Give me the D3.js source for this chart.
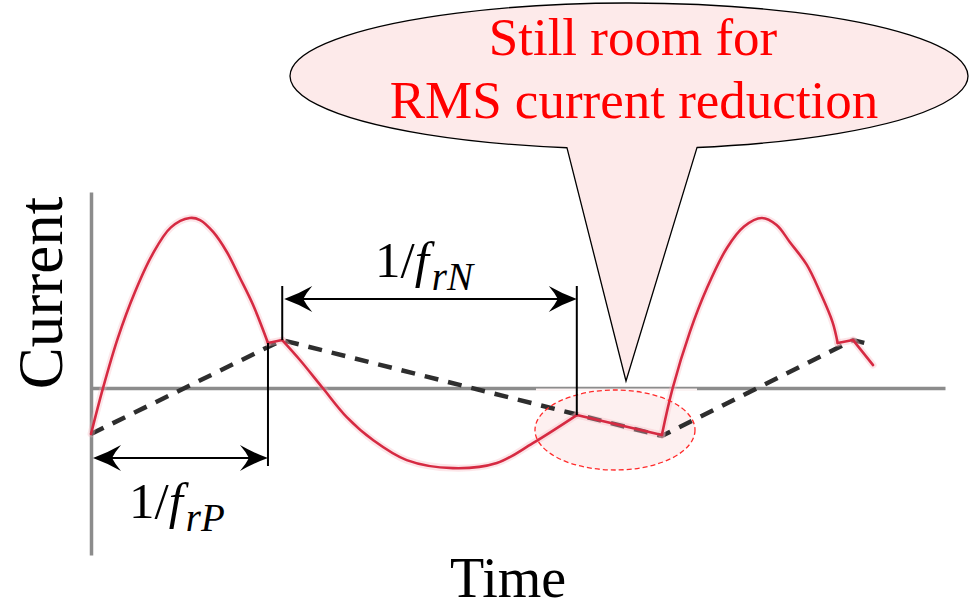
<!DOCTYPE html>
<html>
<head>
<meta charset="utf-8">
<script src="https://cdn.jsdelivr.net/npm/d3@7/dist/d3.min.js"></script>
</head>
<body style="margin:0; background:#ffffff">
<svg id="chart" width="970" height="610" style="display:block"></svg>
<script>
// Resonant tank current (solid) and magnetizing current (dashed); current normalised to the resonant peak
const resonantPosArc = [[0, -0.27], [0.21, 0], [0.47, 0.294], [0.77, 0.565], [1.07, 0.782], [1.40, 0.945],
  [1.73, 1.0], [1.91, 0.988], [2.14, 0.918], [2.38, 0.80], [2.61, 0.647], [2.84, 0.488], [3.10, 0.265]];
const resonantNegArc = [[3.35, 0.282], [3.66, 0.165], [4.06, 0], [4.48, -0.171], [4.94, -0.306], [5.53, -0.424],
  [6.34, -0.471], [7.11, -0.441], [7.74, -0.324], [8.51, -0.159]];
const resonantPosArc2 = [[10.0, -0.276], [10.19, 0], [10.49, 0.329], [10.79, 0.588], [11.14, 0.824], [11.44, 0.95],
  [11.75, 1.0], [12.01, 0.959], [12.24, 0.859], [12.54, 0.724], [12.77, 0.565], [12.99, 0.388], [13.08, 0.265]];
const resonantTail = [[13.35, 0.282], [13.70, 0.135]];
const magnetizing = [[0, -0.27], [3.35, 0.282], [10.0, -0.282], [13.35, 0.282], [13.70, 0.253]];

// Interval markers: 1/f_rP and 1/f_rN
const intervalStart = [0, 3.35];
const intervalEnd = [3.10, 8.51];
const intervalSub = ["rP", "rN"];

const timeDomain = [0, 14.96];
const currentDomain = [-0.982, 1.153];
const axisTitles = { x: "Time", y: "Current" };
const calloutLines = ["Still room for", "RMS current reduction"];

const serif = "\"Liberation Serif\"";
const svg = d3.select("#chart");
const x = d3.scaleLinear().domain(timeDomain).range([91, 945]);
const y = d3.scaleLinear().domain(currentDomain).range([555, 192]);

// Highlight around the freewheeling interval (fill drawn underneath)
const hl = { cx: 615, cy: 430, rx: 80, ry: 40 };
svg.append("ellipse").attr("cx", hl.cx).attr("cy", hl.cy).attr("rx", hl.rx).attr("ry", hl.ry)
  .attr("fill", "#fdf0f0");

// Axes: plain lines without ticks
const axisColor = "#8c8c8c";
const gx = svg.append("g").attr("transform", `translate(0,${y(0)})`)
  .call(d3.axisBottom(x).tickValues([]).tickSizeOuter(0));
const gy = svg.append("g").attr("transform", `translate(${x(0)},0)`)
  .call(d3.axisLeft(y).tickValues([]).tickSizeOuter(0));
[gx, gy].forEach(g => g.select(".domain").attr("stroke", axisColor).attr("stroke-width", 3.5));

// the highlight patch thins the time axis where it overlaps it
svg.append("rect").attr("x", 536).attr("y", y(0) + 0.5).attr("width", 161).attr("height", 2.5).attr("fill", "#fbf3f3");

// Magnetizing current, dashed
const lin = d3.line().x(d => x(d[0])).y(d => y(d[1]));
svg.append("path").datum(magnetizing).attr("d", lin)
  .attr("fill", "none").attr("stroke", "#2e2e2e").attr("stroke-width", 4.5)
  .attr("stroke-dasharray", "14,10");

// Resonant current: smooth arcs joined by straight segments along the magnetizing current
const smooth = d3.line().x(d => x(d[0])).y(d => y(d[1])).curve(d3.curveCatmullRom.alpha(0.5));
const arcs = [resonantPosArc, resonantNegArc, resonantPosArc2, resonantTail];
const joins = arcs.slice(1).map((a, i) => [arcs[i][arcs[i].length - 1], a[0]]);
const red = svg.append("g").attr("fill", "none").attr("stroke-linecap", "round").attr("stroke-linejoin", "round");
// soft halo
arcs.forEach(a => red.append("path").datum(a).attr("d", smooth).attr("stroke", "#f6b8c0").attr("stroke-width", 7).attr("opacity", 0.35));
joins.forEach(j => red.append("path").datum(j).attr("d", lin).attr("stroke", "#f6b8c0").attr("stroke-width", 7).attr("opacity", 0.35));
arcs.forEach(a => red.append("path").datum(a).attr("d", smooth).attr("stroke", "#d62a42").attr("stroke-width", 2.6));
joins.forEach(j => red.append("path").datum(j).attr("d", lin).attr("stroke", "#d62a42").attr("stroke-width", 2.6));

// Dashed outline of the highlight
svg.append("ellipse").attr("cx", hl.cx).attr("cy", hl.cy).attr("rx", hl.rx).attr("ry", hl.ry)
  .attr("fill", "none").attr("stroke", "#ff2a2a").attr("stroke-width", 1.3).attr("stroke-dasharray", "5,3");

// Interval arrows
const arrowHead = "M0,0 Q-14,-5 -28,-13 Q-22,-6 -19,0 Q-22,6 -28,13 Q-14,5 0,0 Z";
const ann = svg.append("g");
function dimArrow(t0, t1, yy) {
  const x0 = x(t0) + 2, x1 = x(t1);
  ann.append("line").attr("x1", x0 + 10).attr("x2", x1 - 10).attr("y1", yy).attr("y2", yy)
    .attr("stroke", "#000").attr("stroke-width", 2);
  ann.append("path").attr("d", arrowHead).attr("transform", `translate(${x1},${yy})`).attr("fill", "#000");
  ann.append("path").attr("d", arrowHead).attr("transform", `translate(${x0},${yy}) rotate(180)`).attr("fill", "#000");
}
function vline(t, ya, yb) {
  ann.append("line").attr("x1", x(t)).attr("x2", x(t)).attr("y1", ya).attr("y2", yb)
    .attr("stroke", "#000").attr("stroke-width", 2);
}
// 1/f_rP below the axis
const yP = 458;
dimArrow(intervalStart[0], intervalEnd[0], yP);
vline(intervalEnd[0], y(resonantPosArc[resonantPosArc.length - 1][1]), yP + 8);
// 1/f_rN above the axis
const yN = 299;
dimArrow(intervalStart[1], intervalEnd[1], yN);
vline(intervalStart[1], yN - 13, y(resonantNegArc[0][1]));
vline(intervalEnd[1], yN - 13, y(resonantNegArc[resonantNegArc.length - 1][1]));

function periodLabel(xx, yy, sub) {
  const t = svg.append("text").attr("x", xx).attr("y", yy).attr("font-size", 51).attr("fill", "#000")
    .style("font-family", serif);
  t.append("tspan").text("1/");
  t.append("tspan").attr("font-style", "italic").text("f");
  t.append("tspan").attr("font-style", "italic").attr("font-size", 39).attr("dx", 3).attr("dy", 13).text(sub);
}
periodLabel(129, 518, intervalSub[0]);
periodLabel(375, 277, intervalSub[1]);

// Axis titles
svg.append("text").attr("x", 508).attr("y", 597).attr("text-anchor", "middle")
  .attr("font-size", 56).attr("fill", "#000").style("font-family", serif).text(axisTitles.x);
svg.append("text").attr("transform", "translate(62,293) rotate(-90)").attr("text-anchor", "middle")
  .attr("font-size", 63).attr("fill", "#000").style("font-family", serif).text(axisTitles.y);

// Callout bubble
const b = { cx: 629, cy: 76, rx: 339, ry: 73, baseL: 567, baseR: 697, tipX: 626, tipY: 381 };
const yb = xx => b.cy + b.ry * Math.sqrt(1 - Math.pow((xx - b.cx) / b.rx, 2));
svg.append("path")
  .attr("d", `M${b.baseL},${yb(b.baseL)} A${b.rx},${b.ry} 0 1 1 ${b.baseR},${yb(b.baseR)} L${b.tipX},${b.tipY} Z`)
  .attr("fill", "#fdeaea").attr("stroke", "#000").attr("stroke-width", 1.3);
svg.append("text").attr("x", 633).attr("y", 55).attr("text-anchor", "middle").style("font-family", serif)
  .attr("font-size", 53).attr("fill", "#ff0000").text(calloutLines[0]);
svg.append("text").attr("x", 634).attr("y", 118).attr("text-anchor", "middle").style("font-family", serif)
  .attr("font-size", 53).attr("fill", "#ff0000").text(calloutLines[1]);
</script>
</body>
</html>
